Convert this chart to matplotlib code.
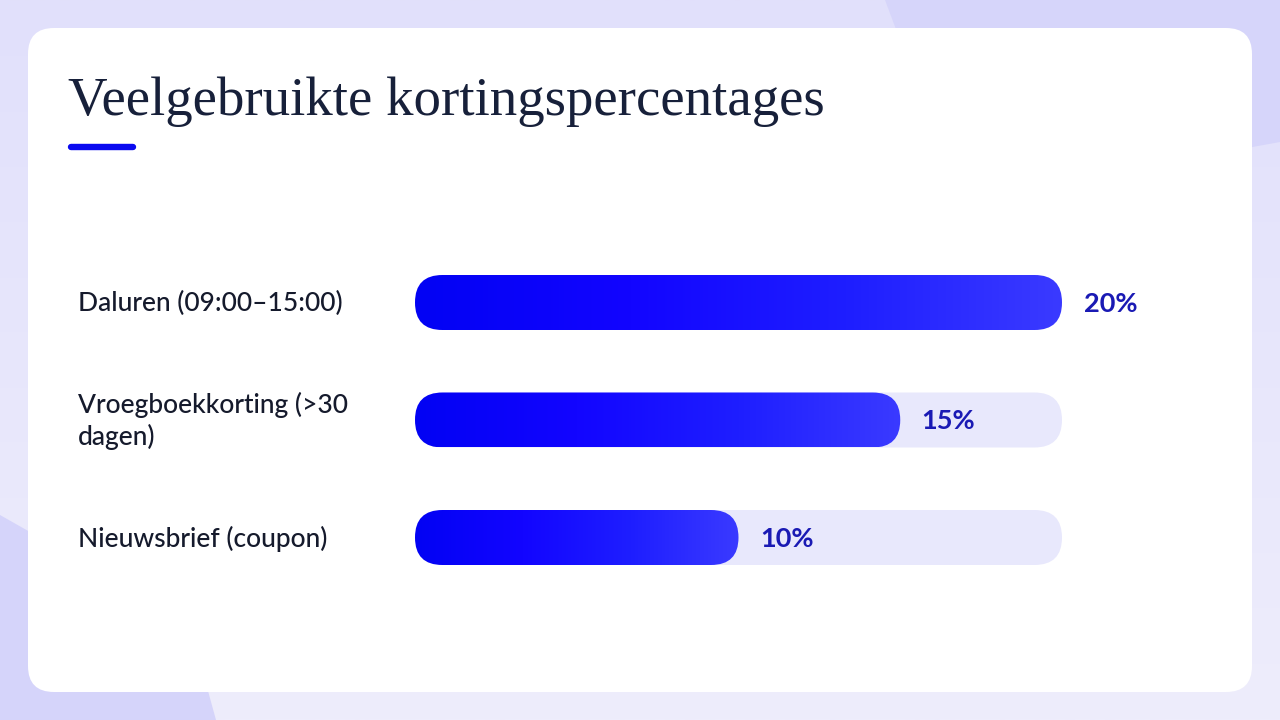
import numpy as np
import matplotlib
matplotlib.use("Agg")
import matplotlib.pyplot as plt
from matplotlib.patches import FancyBboxPatch, Polygon
from matplotlib.colors import LinearSegmentedColormap

# data
title = "Veelgebruikte kortingspercentages"
categories = ["Daluren (09:00\u201315:00)", "Vroegboekkorting (>30\ndagen)", "Nieuwsbrief (coupon)"]
values = [20, 15, 10]
value_labels = ["20%", "15%", "10%"]
max_value = 20

W, H = 1280, 720
fig = plt.figure(figsize=(W / 100, H / 100), dpi=100)

# background in pixel coordinates
bg = fig.add_axes([0, 0, 1, 1])
bg.set_xlim(0, W)
bg.set_ylim(H, 0)
bg.axis('off')
grad = np.linspace(0, 1, 256).reshape(-1, 1)
bg_cmap = LinearSegmentedColormap.from_list("bg", ["#e1e0fb", "#eeedfc"])
bg.imshow(grad, cmap=bg_cmap, extent=(0, W, H, 0), aspect='auto', zorder=0)
bg.add_patch(Polygon([(885, 0), (960, 200), (1280, 142), (1280, 0)], closed=True,
                     facecolor="#d6d5fa", edgecolor='none', zorder=1))
bg.add_patch(Polygon([(0, 515), (150, 600), (205, 680), (216, 720), (0, 720)], closed=True,
                     facecolor="#d5d4fa", edgecolor='none', zorder=1))
# card
bg.add_patch(FancyBboxPatch((28, 28), 1224, 664, boxstyle="round,pad=0,rounding_size=26",
                            facecolor="white", edgecolor='none', zorder=2))

bg.text(68, 115, title, fontsize=39.5, family="Liberation Serif", color="#17203a",
        va='baseline', ha='left', zorder=3)
bg.plot([71, 133], [147, 147], color="#0a0af0", linewidth=4.6, solid_capstyle='round', zorder=3)

# label texts
row_y = [303.5, 421, 538.5]
for lab, yy in zip(categories, row_y):
    bg.text(78, yy, lab, fontsize=19, family="Lato", fontweight='medium', color="#151a2c",
            va='center', ha='left', linespacing=1.3, zorder=3)

# bars axes
ax = fig.add_axes([415 / W, 1 - (302.5 + 117.5 * 2.5) / H, 647 / W, 352.5 / H])
ax.set_xlim(0, max_value)
ax.set_ylim(len(values) - 0.5, -0.5)
ax.axis('off')
ax.patch.set_alpha(0)

bar_h = 55 / 117.5
px_x = 647 / max_value
aspect = px_x / 117.5
rad = bar_h / 2 / aspect

bar_cmap = LinearSegmentedColormap.from_list("bar", ["#0202f4", "#1205ff", "#1e1eff", "#3a3aff"])
for i, v in enumerate(values):
    track = FancyBboxPatch((0, i - bar_h / 2), max_value, bar_h,
                           boxstyle="round,pad=0,rounding_size=%f" % rad,
                           mutation_aspect=aspect, facecolor="#e8e8fc", edgecolor='none', zorder=1)
    ax.add_patch(track)
    bar = FancyBboxPatch((0, i - bar_h / 2), v, bar_h,
                         boxstyle="round,pad=0,rounding_size=%f" % rad,
                         mutation_aspect=aspect, facecolor='none', edgecolor='none', zorder=2)
    ax.add_patch(bar)
    g = np.linspace(0, 1, 256).reshape(1, -1)
    im = ax.imshow(g, cmap=bar_cmap, extent=(0, v, i + bar_h / 2, i - bar_h / 2),
                   aspect='auto', zorder=2, interpolation='bilinear')
    im.set_clip_path(bar)
    ax.annotate(value_labels[i], xy=(v, i), xytext=(15.5, -1), textcoords='offset points',
                fontsize=19.5, family="Lato", fontweight='bold', color="#1a1ab4",
                va='center', ha='left', zorder=3, annotation_clip=False)

ax.set_xlim(0, max_value)
ax.set_ylim(len(values) - 0.5, -0.5)

fig.savefig("out.png", dpi=100)
